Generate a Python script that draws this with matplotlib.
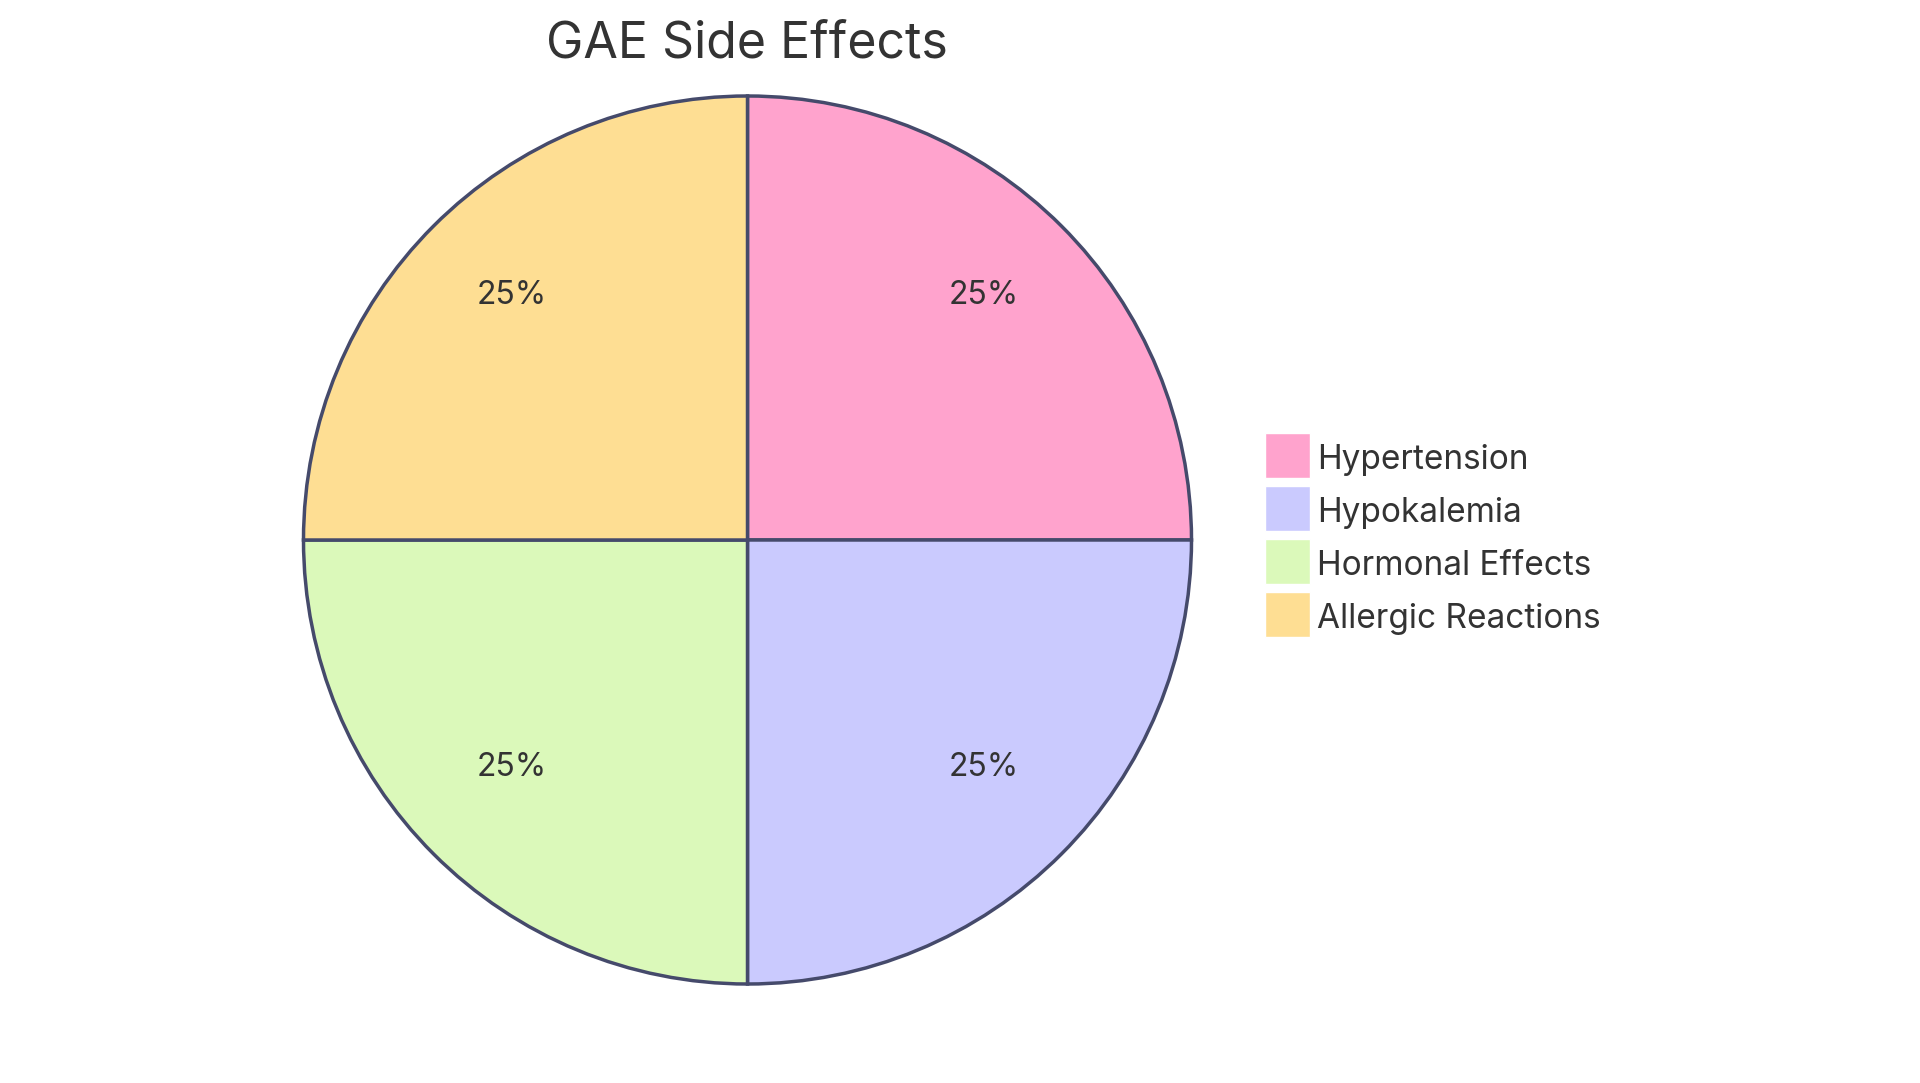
import matplotlib
matplotlib.use("Agg")
import matplotlib.pyplot as plt
from matplotlib.patches import Rectangle

title = "GAE Side Effects"
categories = ["Hypertension", "Hypokalemia", "Hormonal Effects", "Allergic Reactions"]
values = [25, 25, 25, 25]
colors = ["#FFA3CD", "#CACAFE", "#DBF9BA", "#FEDE93"]
edge = "#454A6B"
text_color = "#333333"

plt.rcParams['font.family'] = ['Inter', 'DejaVu Sans']

W, H = 1920, 1083
R = 444
cx, cy = 747.5, 540
fig = plt.figure(figsize=(19.2, 10.83), dpi=100)
ax = fig.add_axes([(cx - R) / W, 1 - (cy + R) / H, 2 * R / W, 2 * R / H])
wedges, texts, autotexts = ax.pie(
    values, colors=colors, startangle=90, counterclock=False, radius=1,
    autopct=lambda p: f"{p:.0f}%", pctdistance=0.752,
    wedgeprops=dict(edgecolor=edge, linewidth=2.5, clip_on=False),
    textprops=dict(fontsize=23, color=text_color))
for t in autotexts:
    x, y = t.get_position()
    t.set_position((x, y + 0.019))
ax.set_xlim(-1.0, 1.0)
ax.set_ylim(-1.0, 1.0)
ax.set_aspect('equal')
ax.axis('off')

fig.text(747/W, 1 - 44/H, title, ha='center', va='center', fontsize=36, color=text_color)

# legend
sq_x, sq_w, first_top, pitch = 1265, 45, 433, 53
for i, (cat, col) in enumerate(zip(categories, colors)):
    top = first_top + i * pitch
    fig.add_artist(Rectangle((sq_x / W, 1 - (top + sq_w) / H), sq_w / W, sq_w / H,
                             transform=fig.transFigure, facecolor=col, edgecolor='white', linewidth=1))
    fig.text(1317 / W, 1 - (top + sq_w / 2 + 1) / H, cat, ha='left', va='center_baseline',
             fontsize=24, color=text_color)

fig.savefig("out.png", dpi=100, facecolor='white')
